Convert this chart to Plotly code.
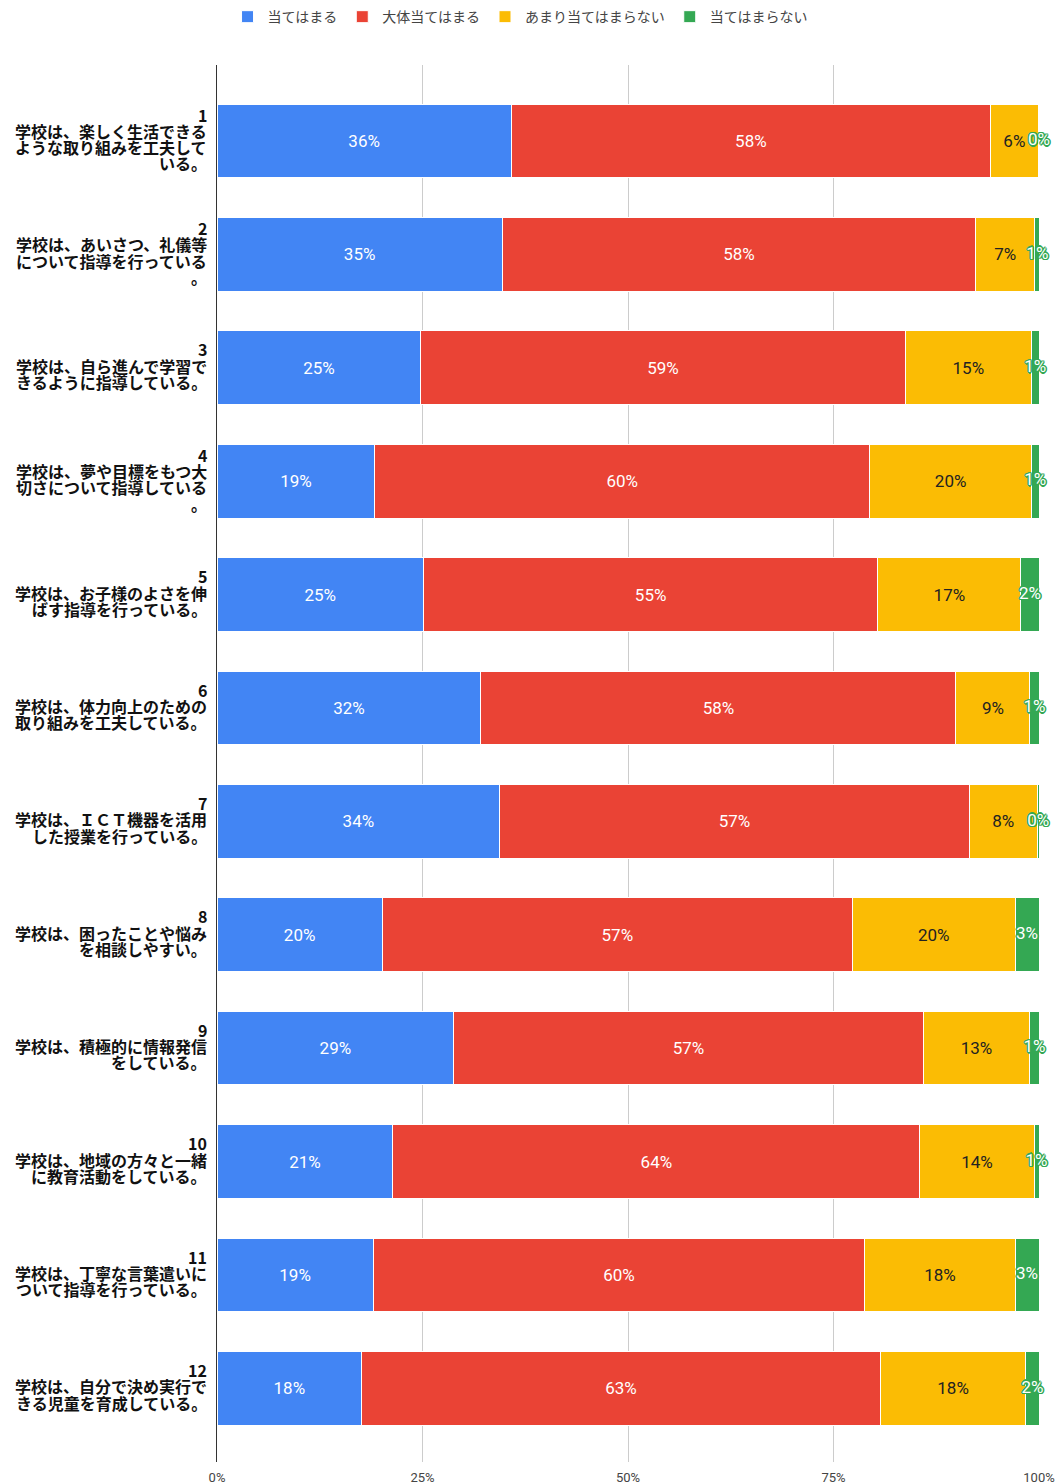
import plotly.graph_objects as go

categories = [
    "1\n学校は、楽しく生活できる\nような取り組みを工夫して\nいる。",
    "2\n学校は、あいさつ、礼儀等\nについて指導を行っている\n。",
    "3\n学校は、自ら進んで学習で\nきるように指導している。",
    "4\n学校は、夢や目標をもつ大\n切さについて指導している\n。",
    "5\n学校は、お子様のよさを伸\nばす指導を行っている。",
    "6\n学校は、体力向上のための\n取り組みを工夫している。",
    "7\n学校は、ＩＣＴ機器を活用\nした授業を行っている。",
    "8\n学校は、困ったことや悩み\nを相談しやすい。",
    "9\n学校は、積極的に情報発信\nをしている。",
    "10\n学校は、地域の方々と一緒\nに教育活動をしている。",
    "11\n学校は、丁寧な言葉遣いに\nついて指導を行っている。",
    "12\n学校は、自分で決め実行で\nきる児童を育成している。",
]

series_names = ["当てはまる", "大体当てはまる", "あまり当てはまらない", "当てはまらない"]

atehamaru = [35.8, 34.7, 24.8, 19.2, 25.1, 32.1, 34.4, 20.1, 28.8, 21.4, 19.0, 17.6]
daitai = [58.3, 57.6, 58.9, 60.2, 55.3, 57.8, 57.1, 57.2, 57.1, 64.1, 59.8, 63.1]
amari = [5.8, 7.2, 15.4, 19.7, 17.4, 9.0, 8.3, 19.8, 13.0, 13.9, 18.3, 17.7]
atehamaranai = [0.2, 0.6, 0.9, 0.9, 2.2, 1.1, 0.2, 2.9, 1.1, 0.6, 2.9, 1.6]

colors = ["#4285f4", "#ea4335", "#fbbc04", "#34a853"]
text_colors = ["#ffffff", "#ffffff", "#222222"]

tick_vals = [0, 25, 50, 75, 100]
tick_text = ["0%", "25%", "50%", "75%", "100%"]

ids = ["Q" + c.split("\n")[0] for c in categories]

fig = go.Figure()
all_series = [atehamaru, daitai, amari, atehamaranai]
for i, (name, vals) in enumerate(zip(series_names, all_series)):
    show_text = i < 3
    fig.add_trace(go.Bar(
        name=name,
        y=ids,
        x=vals,
        orientation="h",
        marker=dict(color=colors[i], line=dict(color="#ffffff", width=1)),
        width=0.65,
        text=[f"{round(v):.0f}%" for v in vals] if show_text else None,
        textposition="inside" if show_text else "none",
        insidetextanchor="middle",
        textfont=dict(family="Roboto, Arial, sans-serif", size=17,
                      color=text_colors[i] if show_text else "#fff"),
        hoverinfo="skip",
    ))

# labels for the thin green segments (centered on segment, overflowing)
green_centers = [a + b + c + d / 2 for a, b, c, d in zip(atehamaru, daitai, amari, atehamaranai)]
sh = "#34a853"
fig.add_trace(go.Scatter(
    x=green_centers,
    y=ids,
    mode="text",
    text=[f"{round(v):.0f}%" for v in atehamaranai],
    textposition="middle center",
    textfont=dict(family="Roboto, Arial, sans-serif", size=17, color="#ffffff",
                  shadow=f"-1px -1px 0 {sh}, 1px -1px 0 {sh}, -1px 1px 0 {sh}, 1px 1px 0 {sh}, "
                         f"0 -1.5px 0 {sh}, 0 1.5px 0 {sh}, -1.5px 0 0 {sh}, 1.5px 0 0 {sh}"),
    showlegend=False,
    cliponaxis=False,
    hoverinfo="skip",
))

# category labels (one annotation per wrapped line for tight line spacing)
line_h = 16.3
for cid, cat in zip(ids, categories):
    lines = cat.split("\n")
    n = len(lines)
    for j, ln in enumerate(lines):
        fig.add_annotation(
            x=0, xref="paper", y=cid, yref="y",
            text=f"<b>{ln}</b>",
            showarrow=False,
            xanchor="right", yanchor="middle",
            xshift=-9, yshift=((n - 1) / 2 - j) * line_h + 2,
            borderpad=0,
            font=dict(family="Noto Sans CJK JP, sans-serif", size=16, color="#111111"),
        )

fig.update_layout(
    template="none",
    barmode="stack",
    width=1057,
    height=1484,
    margin=dict(l=217, r=18, t=65, b=22),
    paper_bgcolor="#ffffff",
    plot_bgcolor="#ffffff",
    showlegend=True,
    legend=dict(
        orientation="h",
        xref="container", yref="container",
        x=0.492, xanchor="center",
        y=0.9885, yanchor="middle",
        font=dict(family="Roboto, Noto Sans CJK JP, sans-serif", size=14, color="#444444"),
        itemwidth=30,
        traceorder="normal",
    ),
    xaxis=dict(
        range=[0, 100],
        tickvals=tick_vals,
        ticktext=tick_text,
        showgrid=True,
        gridcolor="#cccccc",
        gridwidth=1,
        zeroline=False,
        showline=False,
        ticks="",
        ticklabelstandoff=6,
        tickfont=dict(family="Liberation Sans Narrow, Roboto, sans-serif", size=13, color="#444444"),
        automargin=False,
        fixedrange=True,
    ),
    yaxis=dict(
        type="category",
        categoryorder="array",
        categoryarray=ids,
        range=[11.65, -0.67],
        showticklabels=False,
        showgrid=False,
        zeroline=False,
        showline=True,
        linecolor="#333333",
        linewidth=1,
        ticks="",
        automargin=False,
        fixedrange=True,
    ),
)

fig.write_html(
    "out.html",
    config={"displayModeBar": False},
    post_script="document.body.style.margin='0';document.body.style.overflow='hidden';",
)
